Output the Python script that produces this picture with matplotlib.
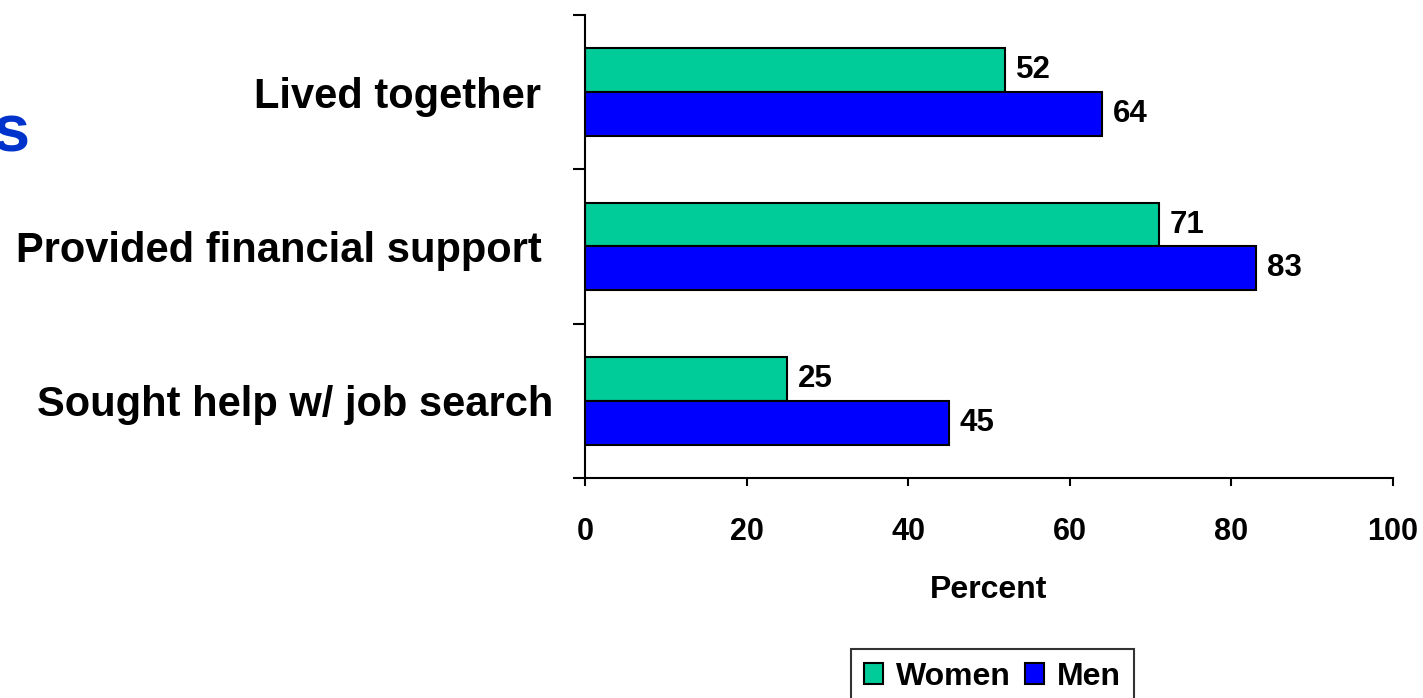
import matplotlib
matplotlib.use("Agg")
import matplotlib.pyplot as plt
import numpy as np

plt.rcParams['font.family'] = ['Liberation Sans', 'DejaVu Sans']
plt.rcParams['font.weight'] = 'bold'

categories = ["Lived together ", "Provided financial support ", "Sought help w/ job search"]
women = [52, 71, 25]
men = [64, 83, 45]
series_names = ["Women", "Men"]
xticks = [0, 20, 40, 60, 80, 100]

green = "#00CC99"
blue = "#0000FF"

fig = plt.figure(figsize=(14.23, 6.98), dpi=100)
ax = fig.add_axes([585/1423, 1-478/698, (1393-585)/1423, (478-15)/698])

pos = np.arange(len(categories))
h = 0.285
bw = ax.barh(pos - h/2, women, height=h, color=green, edgecolor='black', linewidth=1.5, label=series_names[0])
bm = ax.barh(pos + h/2, men, height=h, color=blue, edgecolor='black', linewidth=1.5, label=series_names[1])

for bars, vals in ((bw, women), (bm, men)):
    for b, v in zip(bars, vals):
        ax.annotate(f"{v}", xy=(v, b.get_y() + b.get_height()/2), xytext=(8, 0),
                    textcoords='offset points', ha='left', va='center',
                    fontsize=22.5, fontweight='bold')

ax.set_xlim(0, 100)
ax.set_ylim(len(categories) - 0.5, -0.5)
ax.set_xticks(xticks)
ax.set_xticklabels([str(t) for t in xticks], fontsize=22, fontweight='bold')
ax.tick_params(axis='x', direction='out', length=6, width=1.5, pad=22)

ax.set_yticks(np.arange(len(categories) + 1) - 0.5)
ax.set_yticklabels([])
ax.tick_params(axis='y', which='major', direction='out', length=9, width=1.5)
ax.set_yticks(pos, minor=True)
ax.set_yticklabels(categories, minor=True, fontsize=30, fontweight='bold')
ax.tick_params(axis='y', which='minor', length=0, pad=23)

for s in ('top', 'right'):
    ax.spines[s].set_visible(False)
for s in ('left', 'bottom'):
    ax.spines[s].set_linewidth(1.5)

ax.set_xlabel("Percent", fontsize=23, fontweight='bold', labelpad=20)

leg = fig.legend(handles=[bw, bm], labels=series_names, loc='upper left',
                 bbox_to_anchor=(851/1423, 1-649/698), ncol=2, fontsize=23,
                 frameon=True, fancybox=False, edgecolor='black',
                 handlelength=0.6, handleheight=0.6, handletextpad=0.4,
                 columnspacing=0.45, borderpad=0.4, borderaxespad=0)
leg.get_frame().set_linewidth(1.5)
for t in leg.get_texts():
    t.set_fontweight('bold')

fig.text(30/1423, 1-135/698, "s", ha='right', va='center', fontsize=48,
         fontweight='bold', color='#0033CC')

fig.savefig("out.png", dpi=100)
